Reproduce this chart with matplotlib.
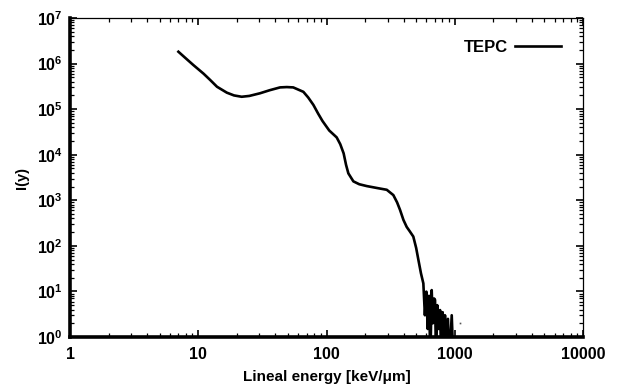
import matplotlib.pyplot as plt
import numpy as np
from matplotlib.ticker import LogLocator, FixedFormatter

plt.rcParams['font.family'] = ['Liberation Sans', 'DejaVu Sans']
plt.rcParams['font.weight'] = 'bold'
plt.rcParams['mathtext.default'] = 'bf'

# lineal energy spectrum
y_energy = [7.0, 8.0, 9.15, 11.0, 12.4, 14.0, 16.7, 19.0, 21.8, 25.0, 30.3, 36.0,
            43.4, 49.0, 55.0, 66.0, 72.0, 79.0, 86.0, 93.0, 105.0, 120.0, 128.0,
            136.0, 142.0, 148.0, 162.0, 180.0, 206.0, 250.0, 295.0, 332.0, 355.0,
            374.0, 398.0, 422.0, 445.0, 475.0, 500.0, 520.0, 545.0, 569.0]
f_y = [1.82e6, 1.3e6, 9.3e5, 6.0e5, 4.35e5, 3.1e5, 2.3e5, 2.0e5, 1.87e5, 1.95e5,
       2.23e5, 2.6e5, 3.0e5, 3.05e5, 3.0e5, 2.4e5, 1.8e5, 1.24e5, 8.0e4, 5.5e4,
       3.4e4, 2.4e4, 1.7e4, 1.07e4, 6.0e3, 3.9e3, 2.6e3, 2.25e3, 2.05e3, 1.85e3,
       1.7e3, 1.3e3, 9.0e2, 6.2e2, 3.7e2, 2.6e2, 2.1e2, 1.6e2, 9.0e1, 5.0e1,
       2.5e1, 1.5e1]

# noisy tail (zero counts fall below the axis)
tail_energy = [585, 600, 615, 630, 645, 661, 675, 690, 702, 715, 730, 750, 768,
               785, 805, 825, 839, 860, 885, 910, 947, 975]
tail_f = [3, 9.9, 1.5, 8, 0.3, 10.7, 2, 7, 6.5, 0.3, 5, 1.5, 3.9, 0.3, 3.5, 0.3,
          3.0, 0.3, 2.5, 0.3, 3.0, 0.3]

# lone point beyond the tail
dot_energy = [1100]
dot_f = [2.0]

x = y_energy + tail_energy
y = f_y + tail_f

fig = plt.figure(figsize=(6.17, 3.89), dpi=100)
ax = fig.add_axes([0.1135, 0.1337, 0.8314, 0.820])

ax.plot(x, y, color='black', lw=1.9, label='TEPC')
ax.plot(dot_energy, dot_f, 's', color='#555555', ms=1.2, mew=0)

ax.set_xscale('log')
ax.set_yscale('log')
ax.set_xlim(1, 10000)
ax.set_ylim(1, 1e7)

ax.set_xticks([1, 10, 100, 1000, 10000])
ax.xaxis.set_major_formatter(FixedFormatter(['1', '10', '100', '1000', '10000']))
ax.xaxis.set_minor_locator(LogLocator(base=10, subs=np.arange(2, 10), numticks=20))
ax.set_yticks([10.0 ** k for k in range(8)])
ax.yaxis.set_minor_locator(LogLocator(base=10, subs=np.arange(2, 10), numticks=20))

ax.tick_params(which='both', direction='in', top=True, right=True, labelsize=11.5)
ax.tick_params(which='major', length=5, width=1.2)
ax.tick_params(which='minor', length=3, width=0.9)
ax.tick_params(axis='x', pad=7)
ax.tick_params(axis='y', pad=5)
ax.spines['left'].set_linewidth(2.6)
ax.spines['bottom'].set_linewidth(2.6)
ax.spines['top'].set_linewidth(0.9)
ax.spines['right'].set_linewidth(0.9)

ax.set_xlabel('Lineal energy [keV/μm]', fontsize=11, fontweight='bold', labelpad=6)
ax.set_ylabel('I(y)', fontsize=10.5, fontweight='bold', labelpad=6)

ax.legend(loc='upper right', markerfirst=False, frameon=False,
          handlelength=2.8, handletextpad=0.4, borderaxespad=0.9,
          prop={'weight': 'bold', 'size': 12})

fig.savefig('out.png', dpi=100)
